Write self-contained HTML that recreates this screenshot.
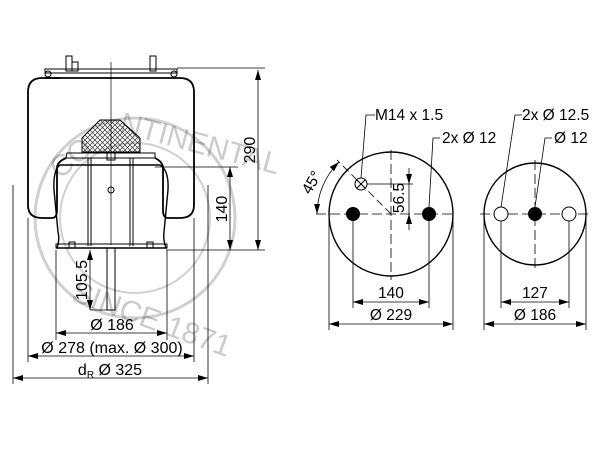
<!DOCTYPE html>
<html><head><style>
body{margin:0;background:#fff;}
svg{display:block;font-family:"Liberation Sans",sans-serif;}
</style></head><body>
<svg width="609" height="449" viewBox="0 0 609 449" xmlns="http://www.w3.org/2000/svg">
<defs>
<marker id="a" viewBox="0 0 10 6" refX="10" refY="3" markerWidth="10" markerHeight="6" orient="auto-start-reverse" markerUnits="userSpaceOnUse"><path d="M0,0 L10,3 L0,6z" fill="#000"/></marker>
<pattern id="h" width="5" height="5" patternUnits="userSpaceOnUse"><path d="M0,0 L5,5 M5,0 L0,5" stroke="#333" stroke-width="0.7"/></pattern>
</defs>
<g opacity="0.18" fill="none" stroke="#000">
<circle cx="135" cy="218" r="100" stroke-width="3"/>
<circle cx="135" cy="218" r="75" stroke-width="2"/>
</g>
<g opacity="0.2" font-size="30" fill="#000">
<text x="60" y="180" transform="rotate(-40 60 180)">CO</text>
<text x="118" y="132" transform="rotate(15 118 132)">NTINENTAL</text>
<text x="70" y="300" transform="rotate(20 70 300)">SINCE 1871</text>
</g>
<g fill="none" stroke="#000" stroke-width="1">
<rect x="45" y="69" width="132" height="4" fill="#fff"/>
<circle cx="48" cy="74" r="3"/><circle cx="174" cy="74" r="3"/>
<rect x="66" y="56" width="6" height="15"/><rect x="150" y="56" width="6" height="15"/>
<rect x="72" y="62" width="6" height="9"/>
<path d="M45,78 L180,78 Q194,78 194,92 L194,205 Q194,218 180,218 L168,218 Q163,218 163,210 L163,168 Q163,162 155,158" stroke-width="1.8"/>
<path d="M60,78 L42,78 Q28,78 28,92 L28,205 Q28,218 42,218 L52,218 Q57,218 57,210 L57,168 Q57,162 66,158" stroke-width="1.8"/>
<path d="M66,158 L155,158 L155,153 L67,153z"/>
<path d="M60,165 Q53,170 54,190 L58,232 Q60,240 57,248 L166,248 Q163,240 164,232 L168,190 Q169,170 160,165z" stroke-width="1.4"/>
<rect x="56" y="244" width="111" height="4"/>
<line x1="88" y1="158" x2="88" y2="246"/><line x1="133" y1="158" x2="133" y2="246"/>
<line x1="91" y1="158" x2="91" y2="246"/><line x1="130" y1="158" x2="130" y2="246"/>
<path d="M82,152 L82,138 L100,120 L120,120 L140,138 L140,152z" fill="url(#h)"/>
<rect x="107" y="152" width="8" height="8"/>
<circle cx="111" cy="190" r="3"/>
<rect x="107" y="248" width="8" height="62"/>
<rect x="69" y="242" width="6" height="6"/><rect x="147" y="242" width="6" height="6"/>
<line x1="111" y1="62" x2="111" y2="245" stroke-width="0.7"/>
</g>
<g stroke="#000" stroke-width="0.8" fill="none">
<line x1="177" y1="68" x2="265" y2="68"/>
<line x1="155" y1="167" x2="238" y2="167"/>
<line x1="166" y1="250" x2="265" y2="250"/>
<line x1="258" y1="70" x2="258" y2="250" marker-start="url(#a)" marker-end="url(#a)"/>
<line x1="230" y1="167" x2="230" y2="250" marker-start="url(#a)" marker-end="url(#a)"/>
<line x1="90" y1="250" x2="90" y2="310" marker-start="url(#a)" marker-end="url(#a)"/>
<line x1="90" y1="310" x2="107" y2="310"/>
<line x1="56" y1="250" x2="56" y2="340"/><line x1="167" y1="250" x2="167" y2="340"/>
<line x1="56" y1="333" x2="167" y2="333" marker-start="url(#a)" marker-end="url(#a)"/>
<line x1="28" y1="218" x2="28" y2="362"/><line x1="194" y1="218" x2="194" y2="362"/>
<line x1="28" y1="356" x2="194" y2="356" marker-start="url(#a)" marker-end="url(#a)"/>
<line x1="13" y1="185" x2="13" y2="384"/><line x1="208" y1="185" x2="208" y2="384"/>
<line x1="13" y1="378" x2="208" y2="378" marker-start="url(#a)" marker-end="url(#a)"/>
</g>
<g font-size="16" fill="#000">
<text x="255" y="150" transform="rotate(-90 255 150)" text-anchor="middle">290</text>
<text x="227" y="209" transform="rotate(-90 227 209)" text-anchor="middle">140</text>
<text x="87" y="280" transform="rotate(-90 87 280)" text-anchor="middle">105.5</text>
<text x="112" y="330" text-anchor="middle">Ø 186</text>
<text x="112" y="353" text-anchor="middle">Ø 278 (max. Ø 300)</text>
<text x="110" y="375" text-anchor="middle">d<tspan font-size="10" dy="3">R</tspan><tspan dy="-3">  Ø 325</tspan></text>
</g>
<g stroke="#000" fill="none">
<circle cx="391" cy="214" r="62" stroke-width="1.4"/>
<line x1="316" y1="214" x2="456" y2="214" stroke-width="0.8" stroke-dasharray="10,4"/>
<line x1="391" y1="150" x2="391" y2="280" stroke-width="0.8" stroke-dasharray="10,4"/>
<line x1="391" y1="214" x2="337" y2="160" stroke-width="0.8" stroke-dasharray="8,4"/>
<circle cx="361" cy="184" r="6" stroke-width="1"/>
<path d="M357,180 L365,188 M365,180 L357,188" stroke-width="1"/>
<line x1="367" y1="184" x2="413" y2="184" stroke-width="0.8"/>
<line x1="409" y1="168" x2="409" y2="184" stroke-width="0.8" marker-end="url(#a)"/>
<line x1="409" y1="230" x2="409" y2="214" stroke-width="0.8" marker-end="url(#a)"/>
<line x1="409" y1="184" x2="409" y2="214" stroke-width="0.8"/>
<path d="M317,214 A74,74 0 0 1 339,162" stroke-width="0.8" marker-start="url(#a)" marker-end="url(#a)"/>
<path d="M361,178 L366,115 L375,115" stroke-width="0.8"/>
<path d="M429,207 L433,138 L440,138" stroke-width="0.8"/>
<line x1="353" y1="214" x2="353" y2="308" stroke-width="0.8"/><line x1="429" y1="214" x2="429" y2="308" stroke-width="0.8"/>
<line x1="353" y1="302" x2="429" y2="302" stroke-width="0.8" marker-start="url(#a)" marker-end="url(#a)"/>
<line x1="329" y1="214" x2="329" y2="330" stroke-width="0.8"/><line x1="453" y1="214" x2="453" y2="330" stroke-width="0.8"/>
<line x1="329" y1="324" x2="453" y2="324" stroke-width="0.8" marker-start="url(#a)" marker-end="url(#a)"/>
</g>
<circle cx="353" cy="214" r="7" fill="#000"/><circle cx="429" cy="214" r="7" fill="#000"/>
<g stroke="#000" fill="none">
<circle cx="535" cy="214" r="51" stroke-width="1.4"/>
<line x1="480" y1="214" x2="592" y2="214" stroke-width="0.8" stroke-dasharray="10,4"/>
<line x1="535" y1="160" x2="535" y2="268" stroke-width="0.8" stroke-dasharray="10,4"/>
<circle cx="501" cy="214" r="7" fill="#fff" stroke-width="1"/>
<circle cx="569" cy="214" r="7" fill="#fff" stroke-width="1"/>
<path d="M501,207 L515,115 L522,115" stroke-width="0.8"/>
<path d="M535,207 L545,138 L552,138" stroke-width="0.8"/>
<line x1="501" y1="221" x2="501" y2="308" stroke-width="0.8"/><line x1="569" y1="221" x2="569" y2="308" stroke-width="0.8"/>
<line x1="501" y1="302" x2="569" y2="302" stroke-width="0.8" marker-start="url(#a)" marker-end="url(#a)"/>
<line x1="484" y1="214" x2="484" y2="330" stroke-width="0.8"/><line x1="586" y1="214" x2="586" y2="330" stroke-width="0.8"/>
<line x1="484" y1="324" x2="586" y2="324" stroke-width="0.8" marker-start="url(#a)" marker-end="url(#a)"/>
</g>
<circle cx="535" cy="214" r="7" fill="#000"/>
<g font-size="15.5" fill="#000">
<text x="375" y="120">M14 x 1.5</text>
<text x="442" y="143">2x Ø 12</text>
<text x="522" y="120">2x Ø 12.5</text>
<text x="554" y="143">Ø 12</text>
<text x="404" y="198" transform="rotate(-90 404 198)" text-anchor="middle">56.5</text>
<text x="316" y="185" transform="rotate(-60 316 185)" text-anchor="middle">45°</text>
<text x="391" y="298" text-anchor="middle">140</text>
<text x="391" y="320" text-anchor="middle">Ø 229</text>
<text x="535" y="298" text-anchor="middle">127</text>
<text x="535" y="320" text-anchor="middle">Ø 186</text>
</g>
</svg>
</body></html>
